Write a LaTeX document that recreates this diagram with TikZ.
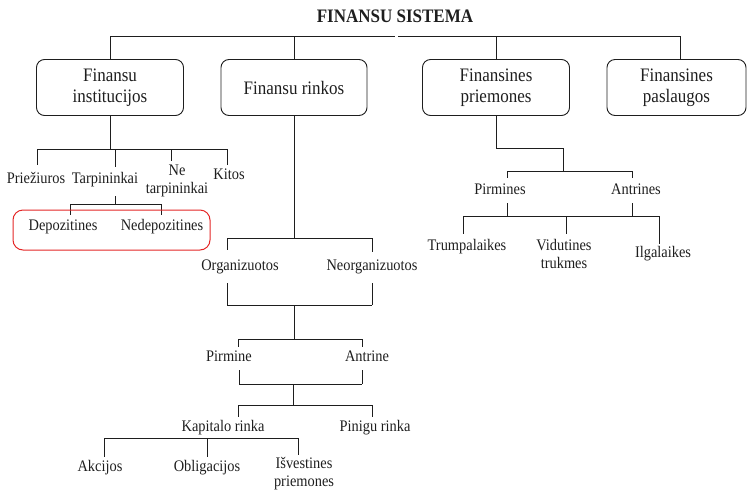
\documentclass[tikz,border=0pt]{standalone}
\usepackage{fontspec}
\setmainfont{Liberation Serif}
\definecolor{frame}{RGB}{228,38,38}
\definecolor{ink}{RGB}{30,30,30}
% slightly condensed look: stretch text vertically
\newcommand{\tall}[1]{\scalebox{1}[1.12]{#1}}
\newcommand{\twolines}[2]{\tall{\begin{tabular}{@{}c@{}}#1\\#2\end{tabular}}}
\begin{document}
\begin{tikzpicture}[x=1pt,y=-1pt,
  wire/.style={draw=ink,line width=0.9pt},
  box/.style={draw=ink,line width=0.9pt,rounded corners=8pt,minimum height=56pt,
    inner sep=0pt,align=center,text=ink,font=\fontsize{17}{18.75}\selectfont},
  lbl/.style={inner sep=0pt,text=ink,font=\fontsize{14.4}{16.5}\selectfont,
    text height=10pt,text depth=3pt},
  lbltwo/.style={inner sep=0pt,text=ink,font=\fontsize{14.4}{16.5}\selectfont},
  redbox/.style={draw=frame,line width=1pt,rounded corners=10pt}]
\useasboundingbox (0,0) rectangle (748,491);

% title and the four main blocks
\node[inner sep=0pt,text=ink,font=\bfseries\fontsize{17}{20}\selectfont] (title) at (395,16) {\tall{FINANSU SISTEMA}};
\node[box,minimum width=147pt] (inst)  at (110,87.5)   {\twolines{Finansu}{institucijos}};
\node[box,minimum width=146pt] (rink)  at (294,87.5)   {\tall{Finansu rinkos}};
\node[box,minimum width=147pt] (priem) at (496,87.5)   {\twolines{Finansines}{priemones}};
\node[box,minimum width=139pt] (pasl)  at (676.5,87.5) {\twolines{Finansines}{paslaugos}};

% top bar
\coordinate (tL) at (110,36);
\coordinate (tR) at (680,36);
\coordinate (gapA) at (395,36);
\coordinate (gapB) at (398,36);
\draw[wire] (tL) -- (gapA);
\draw[wire] (gapB) -- (tR);
\draw[wire] (tL) -- (inst.north);
\draw[wire] (rink.north |- tL) -- (rink.north);
\draw[wire] (priem.north |- tL) -- (priem.north);
\draw[wire] (tR) -- (tR |- pasl.north);

% ---------- financial institutions ----------
\node[lbl] (pri)  at (36,180)  {\tall{Priežiuros}};
\node[lbl] (tarp) at (105,180) {\tall{Tarpininkai}};
\node[lbltwo] (ne) at (177,180.7) {\twolines{Ne}{tarpininkai}};
\node[lbl] (kit)  at (229,176) {\tall{Kitos}};
\coordinate (ib)  at (110,149);
\coordinate (ib1) at (37,149);
\coordinate (ib2) at (115,149);
\coordinate (ib3) at (171,149);
\coordinate (ib4) at (227,149);
\draw[wire] (inst.south) -- (ib);
\draw[wire] (ib1) -- (ib4);
\draw[wire,shorten >=8.5pt] (ib1) -- (ib1 |- pri.north);
\draw[wire,shorten >=6.5pt] (ib2) -- (ib2 |- tarp.north);
\draw[wire,shorten >=0.8pt] (ib3) -- (ib3 |- ne.north);
\draw[wire,shorten >=4.5pt] (ib4) -- (ib4 |- kit.north);

\node[lbl] (dep)  at (63,227)  {\tall{Depozitines}};
\node[lbl] (ndep) at (162,227) {\tall{Nedepozitines}};
\coordinate (tb)  at (115,204);
\coordinate (tb1) at (70,204);
\coordinate (tb2) at (161,204);
\draw[wire,shorten <=9.5pt] (tb |- tarp.south) -- (tb);
\draw[wire] (tb1) -- (tb2);
\draw[wire,shorten >=5.5pt] (tb1) -- (tb1 |- dep.north);
\draw[wire,shorten >=5.5pt] (tb2) -- (tb2 |- ndep.north);
\draw[redbox] (13,210) rectangle (210,250);

% ---------- financial markets ----------
\node[lbl] (org)  at (240,267) {\tall{Organizuotos}};
\node[lbl] (norg) at (372,267) {\tall{Neorganizuotos}};
\coordinate (rb)  at (294,238);
\coordinate (rb1) at (227,238);
\coordinate (rb2) at (372,238);
\draw[wire] (rink.south) -- (rb);
\draw[wire] (rb1) -- (rb2);
\draw[wire,shorten >=10.5pt] (rb1) -- (rb1 |- org.north);
\draw[wire,shorten >=8.5pt] (rb2) -- (rb2 |- norg.north);

\coordinate (ob)  at (294,305);
\coordinate (ob1) at (227,305);
\coordinate (ob2) at (372,305);
\draw[wire,shorten <=9.5pt] (ob1 |- org.south) -- (ob1);
\draw[wire,shorten <=9.5pt] (ob2 |- norg.south) -- (ob2);
\draw[wire] (ob1) -- (ob2);

\node[lbl] (pirm) at (229,358) {\tall{Pirmine}};
\node[lbl] (antr) at (367,358) {\tall{Antrine}};
\coordinate (pb)  at (294,339);
\coordinate (pb1) at (238,339);
\coordinate (pb2) at (362,339);
\draw[wire] (ob) -- (pb);
\draw[wire] (pb1) -- (pb2);
\draw[wire,shorten >=4.5pt] (pb1) -- (pb1 |- pirm.north);
\draw[wire,shorten >=4.5pt] (pb2) -- (pb2 |- antr.north);

\coordinate (qb)  at (293,384);
\coordinate (qb1) at (239,384);
\coordinate (qb2) at (362,384);
\draw[wire,shorten <=5.5pt] (qb1 |- pirm.south) -- (qb1);
\draw[wire,shorten <=5.5pt] (qb2 |- antr.south) -- (qb2);
\draw[wire] (qb1) -- (qb2);

\node[lbl] (kap) at (223,428) {\tall{Kapitalo rinka}};
\node[lbl] (pin) at (375,428) {\tall{Pinigu rinka}};
\coordinate (kb)  at (293,405);
\coordinate (kb1) at (238,405);
\coordinate (kb2) at (372,405);
\draw[wire] (qb) -- (kb);
\draw[wire] (kb1) -- (kb2);
\draw[wire,shorten >=4.5pt] (kb1) -- (kb1 |- kap.north);
\draw[wire,shorten >=4.5pt] (kb2) -- (kb2 |- pin.north);

\node[lbl] (akc) at (100,468) {\tall{Akcijos}};
\node[lbl] (obl) at (207,468) {\tall{Obligacijos}};
\node[lbltwo] (isv) at (304,474) {\twolines{Išvestines}{priemones}};
\coordinate (cb1) at (104,438);
\coordinate (cb2) at (207,438);
\coordinate (cb3) at (298,438);
\draw[wire] (cb1) -- (cb3);
\draw[wire,shorten >=4.5pt] (cb1) -- (cb1 |- akc.north);
\draw[wire,shorten >=4.5pt] (cb2) -- (cb2 |- obl.north);
\draw[wire] (cb3) -- (cb3 |- isv.north);

% ---------- financial instruments ----------
\coordinate (m0) at (496,148);
\coordinate (m1) at (563,148);
\coordinate (m2) at (563,171);
\draw[wire] (priem.south) -- (m0) -- (m1) -- (m2);

\node[lbl] (pmn) at (500,191) {\tall{Pirmines}};
\node[lbl] (atn) at (636,191) {\tall{Antrines}};
\coordinate (mb1) at (507,171);
\coordinate (mb2) at (632,171);
\draw[wire] (mb1) -- (mb2);
\draw[wire,shorten >=6.5pt] (mb1) -- (mb1 |- pmn.north);
\draw[wire,shorten >=6.5pt] (mb2) -- (mb2 |- atn.north);

\coordinate (nb1) at (507,216);
\coordinate (nb2) at (632,216);
\draw[wire,shorten <=5.5pt] (nb1 |- pmn.south) -- (nb1);
\draw[wire,shorten <=5.5pt] (nb2 |- atn.south) -- (nb2);

\node[lbl] (trm) at (467,247) {\tall{Trumpalaikes}};
\node[lbltwo] (vid) at (564,255.7) {\twolines{Vidutines}{trukmes}};
\node[lbl] (ilg) at (663,254) {\tall{Ilgalaikes}};
\coordinate (lb1) at (463,216);
\coordinate (lb2) at (566,216);
\coordinate (lb3) at (659,216);
\draw[wire] (lb1) -- (lb3);
\draw[wire,shorten >=6.5pt] (lb1) -- (lb1 |- trm.north);
\draw[wire,shorten >=3.2pt] (lb2) -- (lb2 |- vid.north);
\draw[wire,shorten >=3.5pt] (lb3) -- (lb3 |- ilg.north);
\end{tikzpicture}
\end{document}
